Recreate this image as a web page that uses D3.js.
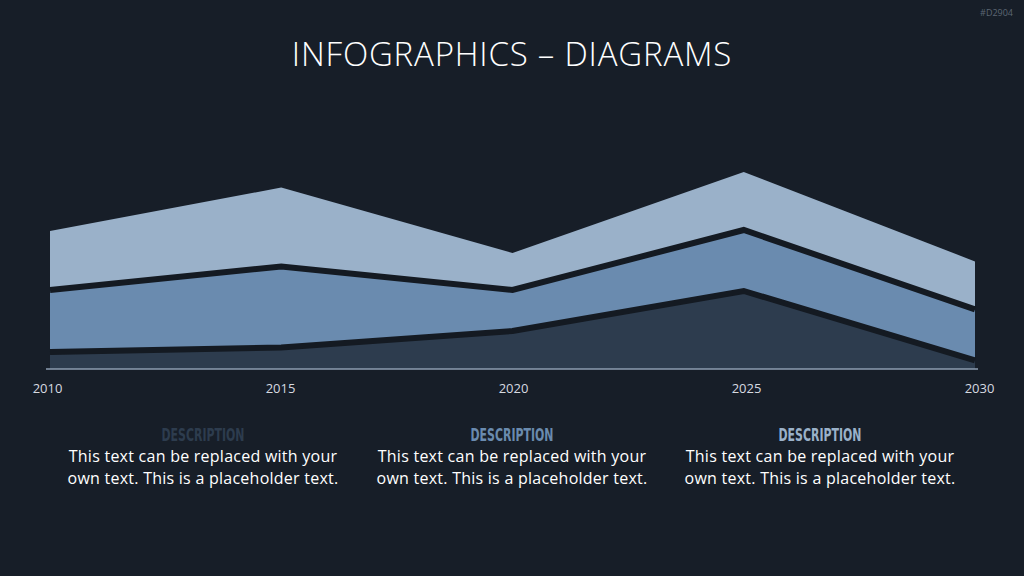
<!DOCTYPE html>
<meta charset="utf-8">
<script src="https://d3js.org/d3.v7.min.js"></script>
<style>
  body { margin: 0; background: #171e28; }
  svg { display: block; }
</style>
<div id="chart"></div>
<script>
  // data
  var years = [2010, 2015, 2020, 2025, 2030];
  var seriesNames = ["bottom", "middle", "top"];
  var bottomValues = [8.5, 10.75, 19, 39, 4.3];
  var middleValues = [31, 40.5, 20.5, 30.5, 25.5];
  var topValues = [29.5, 39.5, 18.5, 29, 24];
  var colors = ["#2d3c4e", "#6a8baf", "#9ab1c9"];
  var descTitles = ["DESCRIPTION", "DESCRIPTION", "DESCRIPTION"];
  var descLines = ["This text can be replaced with your", "own text. This is a placeholder text."];

  var W = 1024, H = 576, bg = "#171e28";

  var svg = d3.select("#chart").append("svg")
    .attr("width", W).attr("height", H);

  svg.append("rect").attr("width", W).attr("height", H).attr("fill", bg);

  // small code top right
  svg.append("text")
    .attr("x", 1013).attr("y", 16)
    .attr("text-anchor", "end")
    .style("font-family", "Open Sans")
    .style("font-size", "9px")
    .attr("fill", "#5c6673")
    .text("#D2904");

  // title
  svg.append("text")
    .attr("x", 512).attr("y", 66)
    .attr("text-anchor", "middle")
    .style("font-family", "Open Sans")
    .style("font-weight", 300)
    .style("font-size", "33px")
    .style("letter-spacing", "0.8px")
    .attr("fill", "#ffffff")
    .text("INFOGRAPHICS \u2013 DIAGRAMS");

  var table = years.map(function (y, i) {
    return { year: y, bottom: bottomValues[i], middle: middleValues[i], top: topValues[i] };
  });

  var stacked = d3.stack().keys(seriesNames)(table);

  var x = d3.scaleLinear().domain([2010, 2030]).range([50, 975]);
  var xLabels = d3.scaleLinear().domain([2010, 2030]).range([47, 979]);
  var y = d3.scaleLinear().domain([0, 100]).range([369, 169]);

  var area = d3.area()
    .x(function (d) { return x(d.data.year); })
    .y0(function (d) { return y(d[0]); })
    .y1(function (d) { return y(d[1]); });

  svg.selectAll(".layer")
    .data(stacked)
    .enter().append("path")
    .attr("class", "layer")
    .attr("d", area)
    .attr("fill", function (d, i) { return colors[i]; });

  // dark separators between layers
  var line = d3.line()
    .x(function (d) { return x(d.data.year); })
    .y(function (d) { return y(d[1]); });

  svg.selectAll(".sep")
    .data(stacked.slice(0, 2))
    .enter().append("path")
    .attr("class", "sep")
    .attr("d", line)
    .attr("fill", "none")
    .attr("stroke", "#141a22")
    .attr("stroke-width", 6);

  // axis
  var xAxis = svg.append("g")
    .attr("transform", "translate(0,369)")
    .call(d3.axisBottom(xLabels).tickValues(years).tickFormat(d3.format("d")).tickSize(0));
  xAxis.select(".domain")
    .attr("d", "M46,0H978")
    .attr("stroke", "#8d9db1")
    .attr("stroke-width", 1.5);
  xAxis.selectAll("text")
    .attr("y", 24)
    .attr("dy", 0)
    .style("font-family", "Open Sans")
    .style("font-size", "13px")
    .attr("fill", "#d6dae0");

  // descriptions
  var cols = [203, 512, 820];
  cols.forEach(function (cx, i) {
    svg.append("text")
      .attr("x", cx).attr("y", 441)
      .attr("text-anchor", "middle")
      .attr("textLength", 83)
      .attr("lengthAdjust", "spacingAndGlyphs")
      .style("font-family", "'DejaVu Sans Condensed', 'DejaVu Sans', sans-serif")
      .style("font-weight", "bold")
      .style("font-size", "18px")
      .attr("fill", colors[i])
      .text(descTitles[i]);
    descLines.forEach(function (t, j) {
      svg.append("text")
        .attr("x", cx).attr("y", 462 + j * 22)
        .attr("text-anchor", "middle")
        .style("font-family", "Open Sans")
        .style("font-size", "16px")
        .style("letter-spacing", "0.25px")
        .attr("fill", "#ffffff")
        .text(t);
    });
  });
</script>
